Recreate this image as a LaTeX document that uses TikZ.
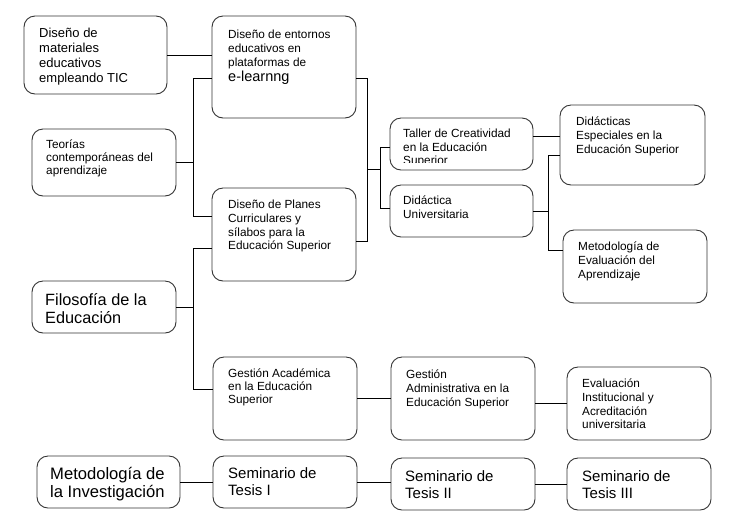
\documentclass[tikz,border=0pt]{standalone}
\usepackage{fontspec}
\setmainfont{Liberation Sans}
\usepackage{tikz}

\begin{document}
\begin{tikzpicture}[x=1pt,y=-1pt,
  box/.style={draw=black!80, line width=0.9pt, rounded corners=11pt, minimum width=144pt, inner sep=0pt},
  txt/.style={anchor=north west, align=left, inner sep=0pt, font=\fontsize{11.8}{13.7}\selectfont},
  bigtxt/.style={txt, font=\fontsize{16.3}{18.5}\selectfont},
  semtxt/.style={txt, font=\fontsize{15}{17.5}\selectfont},
  link/.style={line width=0.9pt}]
  \useasboundingbox (0,0) rectangle (730,523);

  % first column
  \node[box, minimum width=143pt, minimum height=78pt] (mat) at (95.5,55) {};
  \node[txt, font=\fontsize{13}{15}\selectfont] (mat-t) at (39,28) {Diseño de\\materiales\\educativos\\empleando TIC};
  \node[box, minimum height=67pt] (teo) at (104,162.5) {};
  \node[txt, font=\fontsize{11.8}{12.7}\selectfont] (teo-t) at (46,140) {Teorías\\contemporáneas del\\aprendizaje};
  \node[box, minimum height=52pt] (fil) at (104,307) {};
  \node[bigtxt] (fil-t) at (45,293) {Filosofía de la\\Educación};
  \node[box, minimum width=143pt, minimum height=52pt] (met) at (108.5,482) {};
  \node[bigtxt, font=\fontsize{16.6}{18.5}\selectfont] (met-t) at (50,467) {Metodología de\\la Investigación};

  % second column
  \node[box, minimum height=102pt] (ent) at (284,67) {};
  \node[txt] (ent-t) at (228,30) {Diseño de entornos\\educativos en\\plataformas de\\[2pt]{\fontsize{14.5}{17}\selectfont e-learnng}};
  \node[box, minimum height=93pt] (pla) at (284,234.5) {};
  \node[txt] (pla-t) at (228,200) {Diseño de Planes\\Curriculares y\\sílabos para la\\Educación Superior};
  \node[box, minimum height=83pt] (aca) at (285,398.5) {};
  \node[txt, font=\fontsize{11.8}{13}\selectfont] (aca-t) at (228,369) {Gestión Académica\\en la Educación\\Superior};
  \node[box, minimum height=52pt] (sem1) at (285,482) {};
  \node[semtxt] (sem1-t) at (228,467) {Seminario de\\Tesis I};

  % third column
  \node[box, minimum width=143pt, minimum height=52pt] (tal) at (461.5,144) {};
  \begin{scope}
    \clip (390,118) rectangle (533,162);
    \node[txt, font=\fontsize{11.8}{13.5}\selectfont] (tal-t) at (403,129) {Taller de Creatividad\\en la Educación\\Superior};
  \end{scope}
  \node[box, minimum width=143pt, minimum height=52pt] (uni) at (461.5,211) {};
  \node[txt] (uni-t) at (403,196) {Didáctica\\Universitaria};
  \node[box, minimum height=83pt] (adm) at (463,398.5) {};
  \node[txt] (adm-t) at (406,370) {Gestión\\Administrativa en la\\Educación Superior};
  \node[box, minimum height=52pt] (sem2) at (463,484) {};
  \node[semtxt] (sem2-t) at (405,470) {Seminario de\\Tesis II};

  % fourth column
  \node[box, minimum width=145pt, minimum height=80pt] (esp) at (632.5,145) {};
  \node[txt] (esp-t) at (576,117) {Didácticas\\Especiales en la\\Educación Superior};
  \node[box, minimum height=73pt] (eva) at (635,266.5) {};
  \node[txt] (eva-t) at (578,242) {Metodología de\\Evaluación del\\Aprendizaje};
  \node[box, minimum height=73pt] (ins) at (639,403.5) {};
  \node[txt] (ins-t) at (582,379) {Evaluación\\Institucional y\\Acreditación\\universitaria};
  \node[box, minimum height=52pt] (sem3) at (639,484) {};
  \node[semtxt] (sem3-t) at (582,470) {Seminario de\\Tesis III};

  % bracket points
  \coordinate (cb1) at (193,78);
  \coordinate (cb2) at (193,216);
  \coordinate (eb1) at (193,248);
  \coordinate (eb2) at (193,389);
  \coordinate (bd1) at (367,78);
  \coordinate (bd2) at (367,241);
  \coordinate (ij) at (380,169);
  \coordinate (ij1) at (380,147);
  \coordinate (ij2) at (380,208);
  \coordinate (ik) at (547,136);
  \coordinate (jk1) at (548,155);
  \coordinate (jk2) at (548,250);

  % connectors
  \draw[link] (mat.east) -- (mat.east -| ent.west);
  \draw[link] (ent.west |- cb1) -- (cb1) -- (cb2) -- (pla.west |- cb2);
  \draw[link] (teo.east) -- (teo.east -| cb1);
  \draw[link] (pla.west |- eb1) -- (eb1) -- (eb2) -- (aca.west |- eb2);
  \draw[link] (fil.east) -- (fil.east -| eb1);
  \draw[link] (ent.east |- bd1) -- (bd1) -- (bd2) -- (pla.east |- bd2);
  \draw[link] (bd1 |- ij) -- (ij);
  \draw[link] (tal.west |- ij1) -- (ij1) -- (ij2) -- (uni.west |- ij2);
  \draw[link] (tal.east |- ik) -- (esp.west |- ik);
  \draw[link] (uni.east) -- (uni.east -| jk1);
  \draw[link] (esp.west |- jk1) -- (jk1) -- (jk2) -- (eva.west |- jk2);
  \draw[link] (aca.east) -- (adm.west);
  \draw[link] (adm.east |- ins.west) -- (ins.west);
  \draw[link] (met.east) -- (sem1.west);
  \draw[link] (sem1.east) -- (sem1.east -| sem2.west);
  \draw[link] (sem2.east) -- (sem3.west);
\end{tikzpicture}
\end{document}
